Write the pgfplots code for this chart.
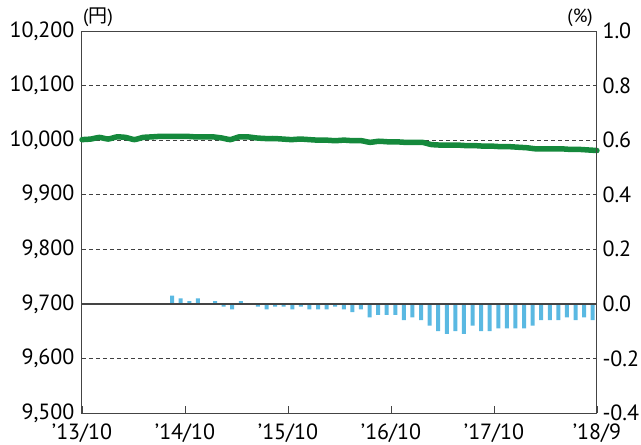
\documentclass[border=0pt]{standalone}
\usepackage{fontspec}
\setmainfont{PT Sans}
\newfontfamily\cjk{Noto Sans CJK JP}
\usepackage{pgfplots}
\usepackage{pgfplotstable}
\pgfplotsset{compat=1.18}
\definecolor{lineg}{HTML}{15893C}
\definecolor{barb}{HTML}{5AB9E2}
\definecolor{framec}{HTML}{444444}

\pgfplotstableread{
v
10001
10002
10005
10002
10006
10005
10001
10005
10006
10007
10007
10007
10007
10006
10006
10006
10004
10001
10006
10006
10004
10003
10003
10002
10001
10002
10001
10000
10000
9999
10000
9999
9999
9996
9998
9997
9997
9996
9996
9996
9992
9991
9991
9991
9990
9990
9989
9989
9988
9988
9987
9986
9984
9984
9984
9984
9983
9983
9982
9981
}\linedata

\pgfplotstableread{
m v
10.5 0.03
11.5 0.02
12.5 0.01
13.5 0.02
15.5 0.01
16.5 -0.01
17.5 -0.02
18.5 0.01
20.5 -0.01
21.5 -0.02
22.5 -0.01
23.5 -0.01
24.5 -0.02
25.5 -0.01
26.5 -0.02
27.5 -0.02
28.5 -0.02
29.5 -0.01
30.5 -0.02
31.5 -0.03
32.5 -0.02
33.5 -0.05
34.5 -0.04
35.5 -0.04
36.5 -0.04
37.5 -0.06
38.5 -0.05
39.5 -0.06
40.5 -0.08
41.5 -0.10
42.5 -0.11
43.5 -0.10
44.5 -0.11
45.5 -0.08
46.5 -0.10
47.5 -0.10
48.5 -0.09
49.5 -0.09
50.5 -0.09
51.5 -0.09
52.5 -0.08
53.5 -0.06
54.5 -0.06
55.5 -0.06
56.5 -0.05
57.5 -0.06
58.5 -0.05
59.5 -0.06
}\bardata

\begin{document}
\begin{tikzpicture}[font=\fontsize{22}{26}\selectfont]
\path[use as bounding box] (-82pt,-32pt) rectangle (559pt,413pt);
\begin{axis}[
  at={(0pt,0pt)}, anchor=south west,
  scale only axis, width=515pt, height=382pt,
  xmin=0, xmax=60, ymin=9500, ymax=10200,
  axis line style={framec, line width=1pt},
  xtick={0,12,24,36,48,60},
  xticklabels={{\char"0027 13/10},{\char"0027 14/10},{\char"0027 15/10},{\char"0027 16/10},{\char"0027 17/10},{\char"0027 18/9}},
  xtick pos=bottom, ytick pos=left,
  tick align=inside,
  x tick style={framec, line width=0.8pt},
  major tick length=7pt,
  y tick style={draw=none},
  ytick={9500,9600,9700,9800,9900,10000,10100,10200},
  scaled y ticks=false,
  yticklabel style={/pgf/number format/1000 sep={,}, /pgf/number format/assume math mode=true, xshift=-4pt},
  xticklabel style={anchor=base, inner sep=0pt, yshift=-26.5pt},
  ymajorgrids, grid style={dash pattern=on 4pt off 3pt, black!75, line width=0.6pt},
  clip=false,
]
\addplot[lineg, line width=5.5pt, line cap=round, line join=round, smooth, tension=0.3]
  table[x expr=\coordindex*60/59, y=v] {\linedata};
\node[anchor=south west, inner sep=0pt, font=\fontsize{19}{22}\selectfont] at (rel axis cs:0,1) [xshift=1pt, yshift=4pt] {({\cjk 円})};
\node[anchor=south east, inner sep=0pt, font=\fontsize{19}{22}\selectfont] at (rel axis cs:1,1) [xshift=-4pt, yshift=4pt] {(\%)};
\end{axis}
\begin{axis}[
  at={(0pt,0pt)}, anchor=south west,
  scale only axis, width=515pt, height=382pt,
  xmin=0, xmax=60, ymin=-0.4, ymax=1.0,
  axis x line=none,
  axis y line*=right,
  axis line style={framec, line width=1pt},
  y tick style={draw=none},
  ytick={-0.4,-0.2,0,0.2,0.4,0.6,0.8,1.0},
  yticklabel style={/pgf/number format/fixed, /pgf/number format/fixed zerofill, /pgf/number format/precision=1, /pgf/number format/assume math mode=true, xshift=2pt},
]
\addplot[ybar, bar width=4pt, fill=barb, draw=none] table[x=m, y=v] {\bardata};
\addplot[framec, line width=1.4pt] coordinates {(0,0) (60,0)};
\end{axis}
\end{tikzpicture}
\end{document}
